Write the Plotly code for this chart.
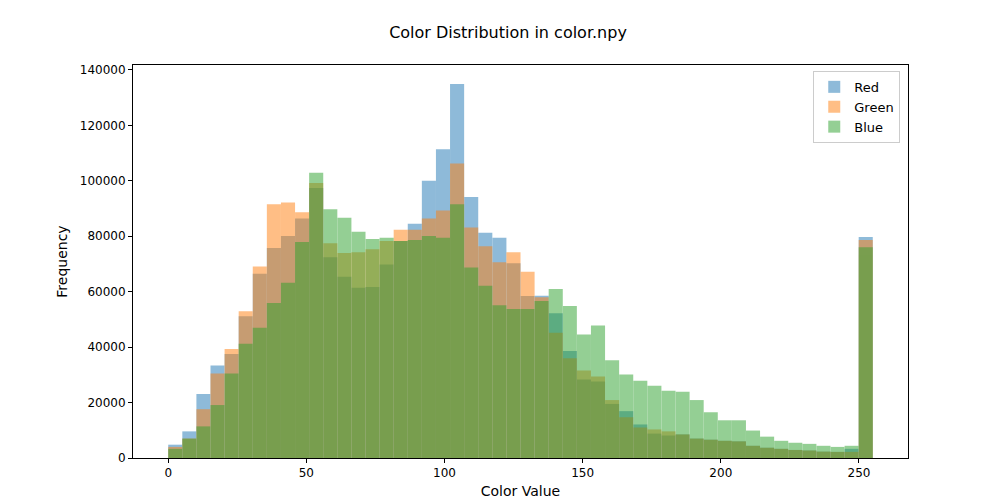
import numpy as np
import plotly.graph_objects as go

# histogram of color.npy channels, 50 bins over 0..255
bin_edges = np.linspace(0, 255, 51)

red = [4800, 9600, 23100, 33400, 37500, 51100, 66500, 75700, 80100, 86400,
       97400, 72400, 65400, 61400, 61700, 69800, 78300, 84500, 100000, 111400,
       134900, 94100, 81200, 79400, 70200, 58400, 58500, 52200, 38600, 28300,
       27600, 19500, 16900, 12100, 8800, 8100, 8500, 7000, 6600, 6200,
       6000, 4400, 3700, 3300, 2900, 2700, 2300, 2200, 3300, 79700]
green = [4000, 7000, 17600, 30500, 39300, 52900, 69100, 91500, 92200, 88600,
         99200, 77500, 73900, 74200, 75300, 78300, 82300, 82300, 86400, 89300,
         106200, 83100, 76400, 70600, 74200, 67200, 58000, 45200, 36000, 31600,
         29400, 20900, 14700, 11000, 10300, 9600, 8500, 7000, 6600, 6200,
         6000, 4400, 3700, 3300, 2900, 2700, 2300, 2200, 2200, 78600]
blue = [3300, 7000, 11400, 19100, 30500, 41200, 47000, 55900, 63200, 77900,
        102900, 89700, 86700, 81600, 79000, 79400, 78300, 78600, 80100, 79400,
        91500, 68700, 62100, 55100, 53700, 53700, 56600, 61000, 54800, 44500,
        47800, 35300, 30100, 27900, 26100, 24300, 23900, 20900, 16500, 13600,
        13600, 9900, 7700, 6200, 5500, 5100, 4400, 4000, 4400, 76000]

centers = (bin_edges[:-1] + bin_edges[1:]) / 2
width = bin_edges[1] - bin_edges[0]

fig = go.Figure()
for name, vals, col in [('Red', red, '#1f77b4'), ('Green', green, '#ff7f0e'), ('Blue', blue, '#2ca02c')]:
    fig.add_trace(go.Bar(x=centers, y=vals, width=width, name=name,
                         marker=dict(color=col, line=dict(width=0)), opacity=0.5))

axis = dict(showline=True, linecolor='black', mirror=True, ticks='outside',
            tickcolor='black', ticklen=4, showgrid=False, zeroline=False,
            tickfont=dict(size=12, color='black'))
fig.update_layout(
    barmode='overlay',
    width=1000, height=500,
    margin=dict(l=125, r=100, t=57, b=48),
    plot_bgcolor='white', paper_bgcolor='white',
    font=dict(family='DejaVu Sans', size=12, color='black'),
    title=dict(text='Color Distribution in color.npy', x=0.5, xanchor='center',
               y=0.94, yanchor='bottom', font=dict(size=16)),
    xaxis=dict(axis, range=[-12.75, 267.75], tickvals=[0, 50, 100, 150, 200, 250],
               title=dict(text='Color Value', standoff=6)),
    yaxis=dict(axis, range=[0, 141750], tickvals=list(range(0, 140001, 20000)),
               tickformat='d', title=dict(text='Frequency', standoff=8)),
    legend=dict(x=0.99, y=0.985, xanchor='right', yanchor='top',
                bordercolor='#cccccc', borderwidth=1, bgcolor='white',
                font=dict(size=13)),
    showlegend=True,
)

fig.write_html("out.html")
